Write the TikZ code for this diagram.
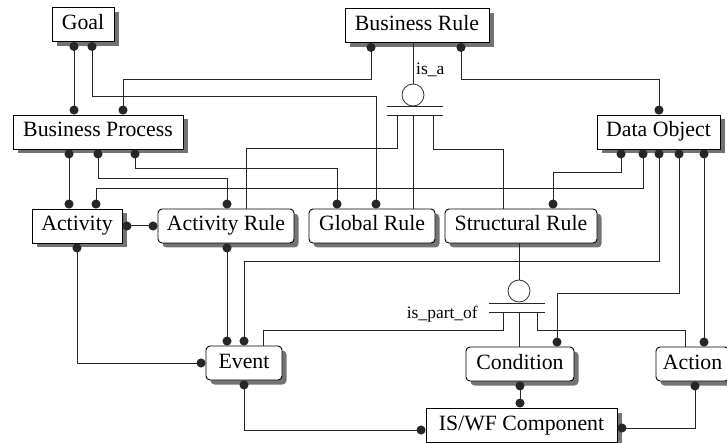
\documentclass[tikz,border=0pt]{standalone}
\usepackage{fontspec}
\setmainfont{Liberation Serif}
\usetikzlibrary{arrows.meta,shadows}
\begin{document}
\begin{tikzpicture}[x=1pt,y=-1pt,
  box/.style={draw=black, line width=0.9pt, fill=white, inner sep=0pt,
    minimum height=34pt, text height=15pt, text depth=5pt,
    font=\fontsize{21.8}{24}\selectfont,
    drop shadow={shadow xshift=4.5pt, shadow yshift=-4.5pt, fill=black!55, opacity=1}},
  rbox/.style={box, rounded corners=4pt},
  conn/.style={line width=1pt, draw=black!85},
  dd/.style={conn, {Circle[length=9pt,width=9pt]}-{Circle[length=9pt,width=9pt]}},
  ring/.style={circle, draw=black!80, line width=0.8pt, minimum size=22pt, inner sep=0pt},
  lab/.style={font=\fontsize{17.5}{19}\selectfont, inner sep=0pt}]
\useasboundingbox (0,0) rectangle (727,443);
\clip (0,0) rectangle (727,443);

% boxes
\node[box, minimum width=62pt]  (goal)   at (83,24.5)   {Goal};
\node[box, minimum width=144pt] (br)     at (417,25.5)  {Business Rule};
\node[box, minimum width=170pt] (bp)     at (98,132)    {Business Process};
\node[box, minimum width=123pt] (do)     at (658.5,132) {Data Object};
\node[box, minimum width=90pt]  (act)    at (77,226)    {Activity};
\node[rbox, minimum width=136pt] (ar)    at (226,226)   {Activity Rule};
\node[rbox, minimum width=126pt] (gr)    at (372,226)   {Global Rule};
\node[rbox, minimum width=152pt] (sr)    at (521,226)   {Structural Rule};
\node[rbox, minimum width=76pt]  (ev)    at (244,363)   {Event};
\node[rbox, minimum width=108pt] (cond)  at (520,364)   {Condition};
\node[rbox, minimum width=73pt]  (action) at (692.5,364) {Action};
\node[box, minimum width=191pt] (iswf)   at (521.5,425) {IS/WF Component};

% is_a
\node[ring] (isa) at (413,95) {};
\node[lab, anchor=base west] (isalab) at (416,75) {is\_a};
\draw[conn] (br.south -| isa) -- (isa.north);
\draw[conn] (387,107) -- (443,107);
\draw[conn] (387,116) -- (443,116);
\draw[conn] (397,116) -- (397,149) -- (246,149) -- (ar.north -| 246,0);
\draw[conn] (413,116) -- (gr.north -| 413,0);
\draw[conn] (433,116) -- (433,150) -- (503,150) -- (sr.north -| 503,0);

% is_part_of
\node[ring] (ipo) at (519,291) {};
\node[lab, anchor=base east] (ipolab) at (478,318) {is\_part\_of};
\draw[conn] (sr.south -| ipo) -- (ipo.north);
\draw[conn] (489,303) -- (545,303);
\draw[conn] (489,312) -- (545,312);
\draw[conn] (503,312) -- (503,330) -- (263,330) -- (ev.north -| 263,0);
\draw[conn] (519,312) -- (cond.north -| 519,0);
\draw[conn] (537,312) -- (537,330) -- (685,330) -- (action.north -| 685,0);

% relationships
\draw[dd] (goal.south -| 74,0) -- (bp.north -| 74,0);
\draw[dd] (goal.south -| 92,0) -- (92,97) -- (376,97) -- (gr.north -| 376,0);
\draw[dd] (br.south -| 371,0) -- (371,80) -- (123,80) -- (bp.north -| 123,0);
\draw[dd] (br.south -| 461,0) -- (461,80) -- (659,80) -- (do.north -| 659,0);
\draw[dd] (bp.south -| 69,0) -- (act.north -| 69,0);
\draw[dd] (bp.south -| 98,0) -- (98,179) -- (227,179) -- (ar.north -| 227,0);
\draw[dd] (bp.south -| 135,0) -- (135,169) -- (337,169) -- (gr.north -| 337,0);
\draw[dd] (do.south -| 643,0) -- (643,189) -- (96,189) -- (act.north -| 96,0);
\draw[dd] (do.south -| 621,0) -- (621,173) -- (553,173) -- (sr.north -| 553,0);
\draw[dd] (do.south -| 659,0) -- (659,262) -- (244,262) -- (ev.north -| 244,0);
\draw[dd] (do.south -| 679,0) -- (679,293) -- (557,293) -- (cond.north -| 557,0);
\draw[dd] (do.south -| 704,0) -- (action.north -| 704,0);
\draw[dd] (act.east) -- (ar.west);
\draw[dd] (act.south -| 77,0) -- (77,363) -- (ev.west);
\draw[dd] (ar.south -| 227,0) -- (ev.north -| 227,0);
\draw[dd] (ev.south -| 244,0) -- (244,430) -- (iswf.west |- 0,430);
\draw[dd] (cond.south -| 520,0) -- (iswf.north -| 520,0);
\draw[dd] (action.south -| 695,0) -- (695,428) -- (iswf.east |- 0,428);
\end{tikzpicture}
\end{document}
